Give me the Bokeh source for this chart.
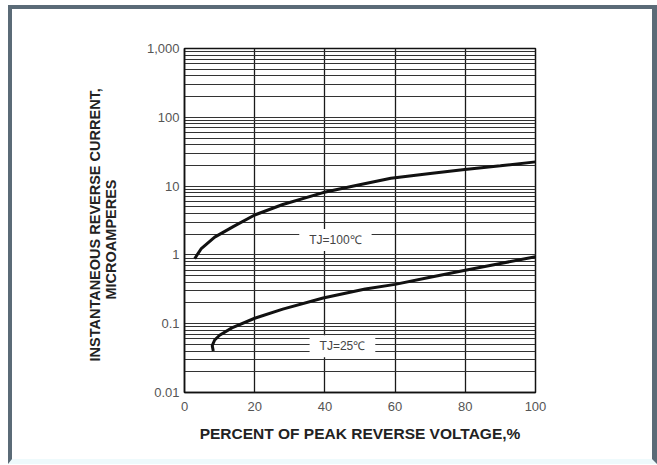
from bokeh.plotting import figure
from bokeh.models import FixedTicker, CustomJSTickFormatter, Label, Title
from bokeh.embed import file_html
from bokeh.resources import INLINE

# ---- data ----
x_ticks = [0, 20, 40, 60, 80, 100]
y_ticks = [0.01, 0.1, 1, 10, 100, 1000]
y_tick_labels = ["0.01", "0.1", "1", "10", "100", "1,000"]
y_minor = [m * d for d in [0.01, 0.1, 1, 10, 100] for m in range(2, 10)]

tj100_x = [2.9, 3.7, 4.7, 8.6, 14, 20, 28, 39.5, 48.5, 58.8, 70, 79.2, 90, 100]
tj100_y = [0.88, 1.02, 1.22, 1.81, 2.6, 3.8, 5.4, 8.05, 10.1, 13.0, 15.3, 17.3, 19.7, 22.5]

tj25_x = [8.2, 7.9, 8.6, 10, 13.5, 20, 28, 39.5, 51.5, 60, 70, 80, 90, 100]
tj25_y = [0.040, 0.048, 0.058, 0.068, 0.087, 0.12, 0.163, 0.236, 0.32, 0.373, 0.474, 0.597, 0.75, 0.94]

labels_text = ["TJ=100℃", "TJ=25℃"]
labels_x = [43, 45]
labels_y = [1.65, 0.047]

x_title = "PERCENT OF PEAK REVERSE VOLTAGE,%"
y_title_1 = "INSTANTANEOUS REVERSE CURRENT,"
y_title_2 = "MICROAMPERES"

FRAME_COLOR = "#5b6b77"

# ---- figure ----
p = figure(width=640, height=450, x_range=(0, 100), y_range=(0.01, 1000),
           y_axis_type="log", output_backend="svg", toolbar_location=None,
           min_border_left=172, min_border_right=126, min_border_top=39,
           min_border_bottom=76)
p.styles = {
    "box-sizing": "content-box",
    "margin-left": "8px",
    "margin-top": "5px",
    "border-left": f"4px solid {FRAME_COLOR}",
    "border-top": f"4px solid {FRAME_COLOR}",
    "border-right": f"5px solid {FRAME_COLOR}",
    "border-bottom": "5px solid #eefafc",
}
p.background_fill_color = "white"
p.border_fill_color = "white"
p.outline_line_color = "#111111"
p.outline_line_width = 1.5

# x axis
p.xaxis.ticker = FixedTicker(ticks=x_ticks)
p.xaxis.major_tick_line_color = None
p.xaxis.minor_tick_line_color = None
p.xaxis.major_tick_out = 0
p.xaxis.major_tick_in = 0
p.xaxis.minor_tick_out = 0
p.xaxis.axis_line_color = "#111111"
p.xaxis.axis_line_width = 1.5
p.xaxis.major_label_standoff = 9
p.xaxis.major_label_text_font = "Liberation Sans"
p.xaxis.major_label_text_font_size = "13px"
p.xaxis.major_label_text_color = "#555555"
p.xaxis.axis_label = x_title
p.xaxis.axis_label_standoff = 11
p.xaxis.axis_label_text_font = "Liberation Sans"
p.xaxis.axis_label_text_font_style = "bold"
p.xaxis.axis_label_text_font_size = "15.5px"
p.xaxis.axis_label_text_color = "#222222"

# y axis
p.yaxis.ticker = FixedTicker(ticks=y_ticks, minor_ticks=y_minor)
p.yaxis.formatter = CustomJSTickFormatter(args=dict(vals=y_ticks, labs=y_tick_labels), code="""
    for (let i = 0; i < vals.length; i++) {
        if (Math.abs(Math.log10(vals[i]) - Math.log10(tick)) < 1e-6) return labs[i];
    }
    return '';
""")
p.yaxis.major_tick_line_color = None
p.yaxis.minor_tick_line_color = None
p.yaxis.major_tick_out = 0
p.yaxis.major_tick_in = 0
p.yaxis.minor_tick_out = 0
p.yaxis.axis_line_color = "#111111"
p.yaxis.axis_line_width = 1.5
p.yaxis.major_label_standoff = 5
p.yaxis.major_label_text_font = "Liberation Sans"
p.yaxis.major_label_text_font_size = "13px"
p.yaxis.major_label_text_color = "#555555"

# y title: spacer, then the two lines (closest to the frame first)
p.add_layout(Title(text=" ", text_font_size="10px", standoff=10), "left")
p.add_layout(Title(text=y_title_2, align="left", offset=93, standoff=0, vertical_align="top",
                   text_font="Liberation Sans", text_font_style="bold",
                   text_font_size="14.5px", text_color="#222222"), "left")
p.add_layout(Title(text=y_title_1, align="left", offset=31, standoff=0, vertical_align="bottom",
                   text_font="Liberation Sans", text_font_style="bold",
                   text_font_size="14.5px", text_color="#222222"), "left")

# grids
p.xgrid.grid_line_color = "#1a1a1a"
p.xgrid.grid_line_width = 1.3
p.ygrid.grid_line_color = "#333333"
p.ygrid.grid_line_width = 1
p.ygrid.minor_grid_line_color = "#333333"
p.ygrid.minor_grid_line_width = 1

# curves
p.line(tj100_x, tj100_y, line_color="#111111", line_width=3)
p.line(tj25_x, tj25_y, line_color="#111111", line_width=3)

for t, lx, ly in zip(labels_text, labels_x, labels_y):
    p.add_layout(Label(x=lx, y=ly, text=t, text_align="center", text_baseline="middle",
                       text_font="Liberation Sans", text_font_size="12px",
                       text_color="#444444", background_fill_color="white",
                       padding=dict(left=10, right=10, top=4, bottom=4)))

open("out.html", "w").write(file_html(p, INLINE))
